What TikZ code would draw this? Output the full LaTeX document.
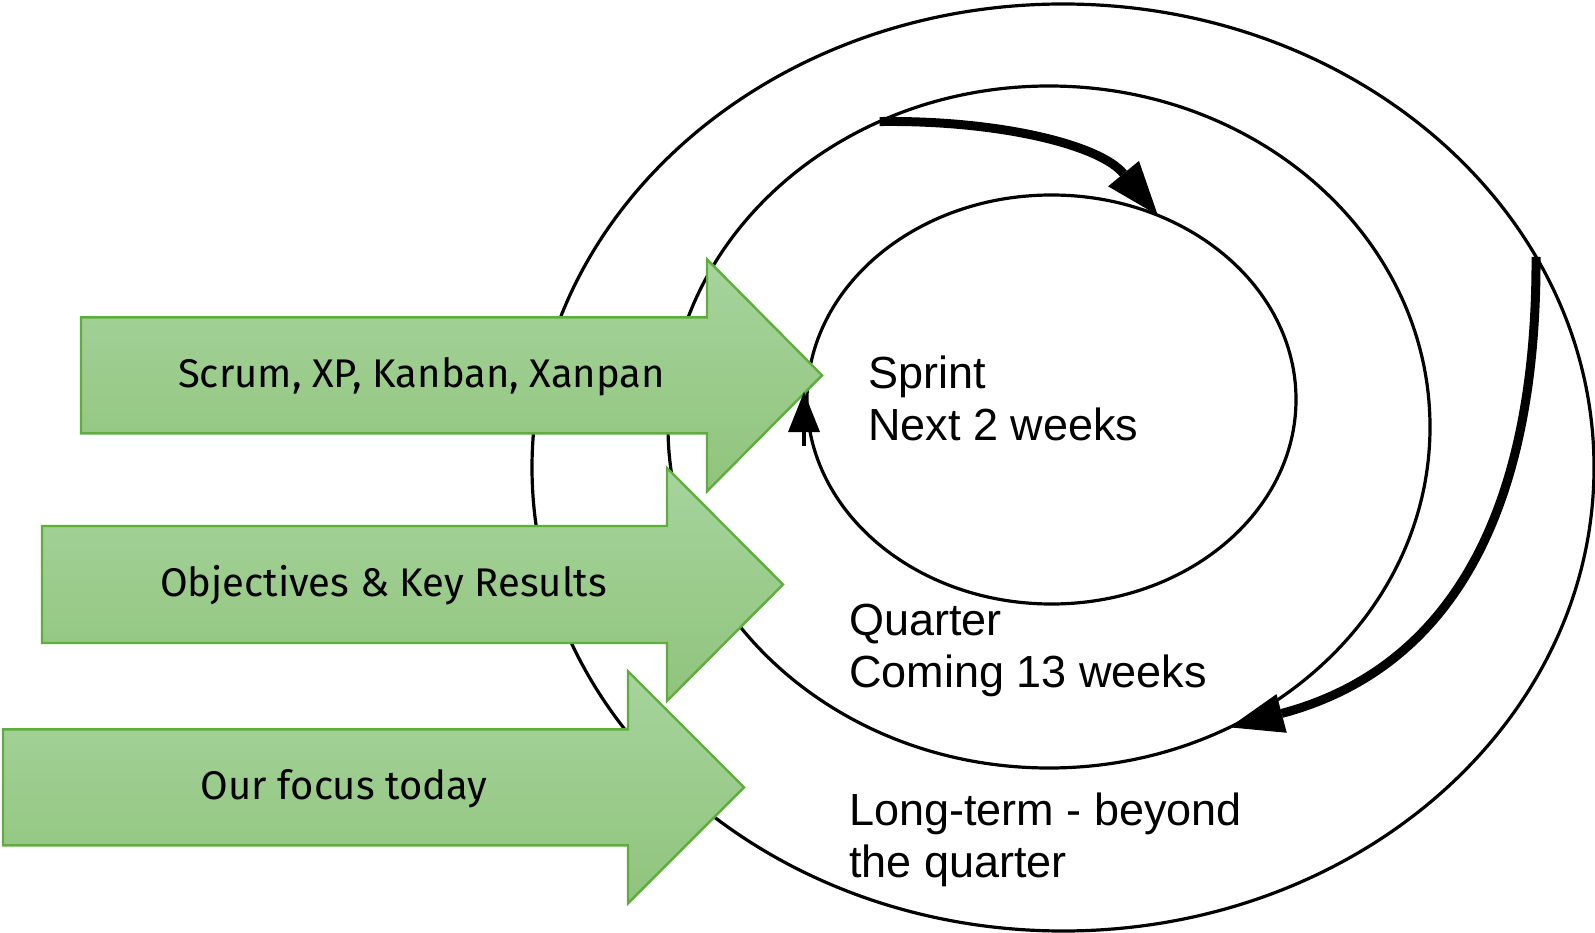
\documentclass[tikz,border=0pt]{standalone}
\usepackage{fontspec}
\setmainfont{Liberation Sans}
\newfontfamily\labelfont{Fira Sans}
\usetikzlibrary{arrows.meta,shapes.geometric}

\definecolor{gtop}{HTML}{A6D49D}
\definecolor{gbottom}{HTML}{90C47C}
\definecolor{gline}{HTML}{5EAD3D}

\tikzset{
  ring/.style={ellipse, draw=black, line width=3.2pt, inner sep=0pt, outer sep=0pt},
  garrow/.style={draw=gline, line width=2.4pt, line join=miter, top color=gtop, bottom color=gbottom},
  glabel/.style={font=\labelfont\fontsize{40}{46}\selectfont, inner sep=0pt, anchor=base},
  rlabel/.style={font=\fontsize{45}{52}\selectfont, align=left, inner sep=0pt, anchor=base west},
  cycle arrow/.style={line width=9pt, -{Triangle[length=54pt, width=40pt, line width=0pt]}},
  small tip/.style={line width=3.2pt, -{Triangle[length=40pt, width=32pt, line width=0pt]}}
}

\begin{document}
\begin{tikzpicture}[x=1pt, y=-1pt]
\useasboundingbox (0,0) rectangle (1595,933);

% nested planning horizons
\node[ring, minimum width=1062pt, minimum height=927pt] (outer) at (1063,467.5) {};
\node[ring, minimum width=762pt, minimum height=682pt] (mid) at (1049,427) {};
\node[ring, minimum width=489pt, minimum height=409pt] (inner) at (1051.5,399.5) {};

% green block arrows
\path[garrow] (81,375.3) ++(0,-58) -- ++(626,0) -- ++(0,-58) -- ++(115,116)
  -- ++(-115,116) -- ++(0,-58) -- ++(-626,0) -- cycle;
\path[garrow] (42,584) ++(0,-58) -- ++(625,0) -- ++(0,-58) -- ++(116,116.5)
  -- ++(-116,116.5) -- ++(0,-58) -- ++(-625,0) -- cycle;
\path[garrow] (3,787.3) ++(0,-58) -- ++(625,0) -- ++(0,-58) -- ++(116,116)
  -- ++(-116,116) -- ++(0,-58) -- ++(-625,0) -- cycle;

\node[glabel] (scrum) at (421.5,387) {Scrum, XP, Kanban, Xanpan};
\node[glabel] (okr) at (383.5,596) {Objectives \& Key Results};
\node[glabel] (focus) at (344,799) {Our focus today};

% horizon labels (anchored on the baseline of the last line)
\node[rlabel] (sprint) at (868,440) {Sprint\\Next 2 weeks};
\node[rlabel] (quarter) at (849,687) {Quarter\\Coming 13 weeks};
\node[rlabel] (longterm) at (849,877) {Long-term - beyond\\the quarter};

% cycle arrows
\draw[cycle arrow] (mid.119.4) .. controls (1000,120) and (1100,145) .. (inner.60);
\draw[cycle arrow] (outer.24.45) .. controls (1537,520) and (1445,670) .. (mid.-59.4);

\coordinate (loopfoot) at (804,446);
\coordinate (loophead) at (804,392);
\draw[small tip] (loopfoot) -- (loophead);
\end{tikzpicture}
\end{document}
